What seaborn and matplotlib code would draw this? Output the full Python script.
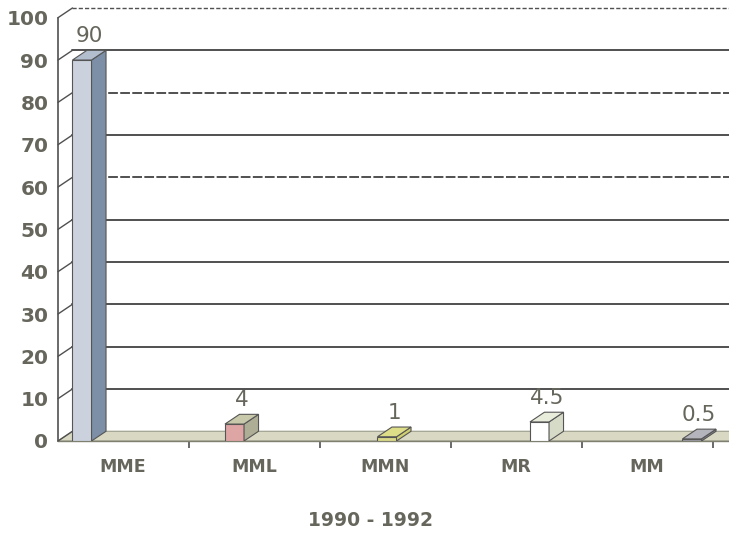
import numpy as np
import pandas as pd
import matplotlib
matplotlib.use("Agg")
import matplotlib.pyplot as plt
from matplotlib.patches import Polygon
import seaborn as sns

# ---- data ----
categories = ["MME", "MML", "MMN", "MR", "MM"]
values = [90, 4, 1, 4.5, 0.5]
value_labels = ["90", "4", "1", "4.5", "0.5"]
period_label = "1990 - 1992"
y_ticks = list(range(0, 101, 10))

# ---- styles ----
front_colors = ["#c9d1e0", "#e79c9c", "#e6e67c", "#ffffff", "#9c9caa"]
side_colors = ["#7c8fa7", "#aeae96", "#cfcf70", "#d6dbc8", "#8a8a96"]
top_colors = ["#b2bdcd", "#c8c8aa", "#dede88", "#e8ecda", "#b4b4bc"]
txt_col = "#66665c"

sns.set_theme(style="white")
plt.rcParams["font.family"] = ["DejaVu Sans"]

fig = plt.figure(figsize=(7.29, 5.35), dpi=100)
ax = fig.add_axes([58 / 729, 94 / 535, 671 / 729, 436 / 535])

df = pd.DataFrame({"cat": categories, "val": values})
bar_w = 0.125
sns.barplot(data=df, x="cat", y="val", hue="cat", palette=front_colors,
            width=bar_w, legend=False, ax=ax, edgecolor="#555555",
            linewidth=0.8, zorder=4)

px_per_x = 152.5
x_left = (58 - 82) / px_per_x
x_right = (729 - 82) / px_per_x
ax.set_xlim(x_left, x_right)
ax.set_ylim(0, 103)

dx = 0.095   # depth in x (data)
dy = 2.3     # depth in y (data)
wall_x = x_left + dx

# floor
floor = Polygon([(x_left, 0), (x_right, 0), (x_right + dx, dy), (wall_x, dy)],
                closed=True, facecolor="#d9d9c3", edgecolor="#9a9a88",
                linewidth=0.8, zorder=2)
ax.add_patch(floor)

# gridlines with depth and diagonal tick connectors
for v in y_ticks[1:]:
    if v in (60, 80):
        ls, lw = (0, (5, 1.2)), 1.4
    elif v == 100:
        ls, lw = (0, (3, 1.5)), 1.0
    else:
        ls, lw = "-", 1.4
    ax.plot([wall_x, x_right], [v + dy, v + dy], color="#505050",
            lw=lw, ls=ls, zorder=1)
for v in y_ticks:
    ax.plot([x_left, wall_x], [v, v + dy], color="#505050", lw=1.0, zorder=3,
            clip_on=False)

# 3D faces for bars
for i, p in enumerate(ax.patches[:len(categories)]):
    x0, w, h = p.get_x(), p.get_width(), p.get_height()
    side = Polygon([(x0 + w, 0), (x0 + w + dx, dy), (x0 + w + dx, h + dy), (x0 + w, h)],
                   closed=True, facecolor=side_colors[i], edgecolor="#555555",
                   linewidth=0.8, zorder=4)
    top = Polygon([(x0, h), (x0 + dx, h + dy), (x0 + w + dx, h + dy), (x0 + w, h)],
                  closed=True, facecolor=top_colors[i], edgecolor="#555555",
                  linewidth=0.8, zorder=4)
    ax.add_patch(side)
    ax.add_patch(top)
    ax.text(x0 + (w + dx) / 2, h + dy + 1.0, value_labels[i], ha="center",
            va="bottom", fontsize=15.5, color=txt_col, zorder=6)

# spines
for s in ["top", "right"]:
    ax.spines[s].set_visible(False)
ax.spines["left"].set_bounds(0, 100)
ax.spines["left"].set_color("#505050")
ax.spines["left"].set_linewidth(1.2)
ax.spines["bottom"].set_color("#808070")
ax.spines["bottom"].set_linewidth(1.0)

ax.set_yticks(y_ticks)
ax.set_yticklabels([str(t) for t in y_ticks])
ax.tick_params(axis="y", direction="out", length=6, width=1.2, color="#505050",
               labelsize=14.5, labelcolor=txt_col, pad=1)
for lab in ax.get_yticklabels():
    lab.set_fontweight("bold")

# category labels evenly spaced, boundary ticks
lab_step = 131 / px_per_x
lab_pos = [(123 - 82) / px_per_x + i * lab_step for i in range(len(categories))]
ax.set_xticks(lab_pos)
ax.set_xticklabels(categories)
ax.set_xticks([x_left + k * lab_step for k in range(1, 6)], minor=True)
ax.tick_params(axis="x", which="major", length=0, pad=12, labelsize=12.5,
               labelcolor=txt_col)
ax.tick_params(axis="x", which="minor", bottom=True, direction="out", length=5,
               width=1.2, color="#505050")
for lab in ax.get_xticklabels():
    lab.set_fontweight("bold")

ax.set_ylabel("")
ax.set_xlabel(period_label, fontsize=13.5, fontweight="bold", color=txt_col,
              labelpad=16)
ax.xaxis.set_label_coords((370 - 58) / 671, -0.16)

fig.savefig("out.png", dpi=100)
